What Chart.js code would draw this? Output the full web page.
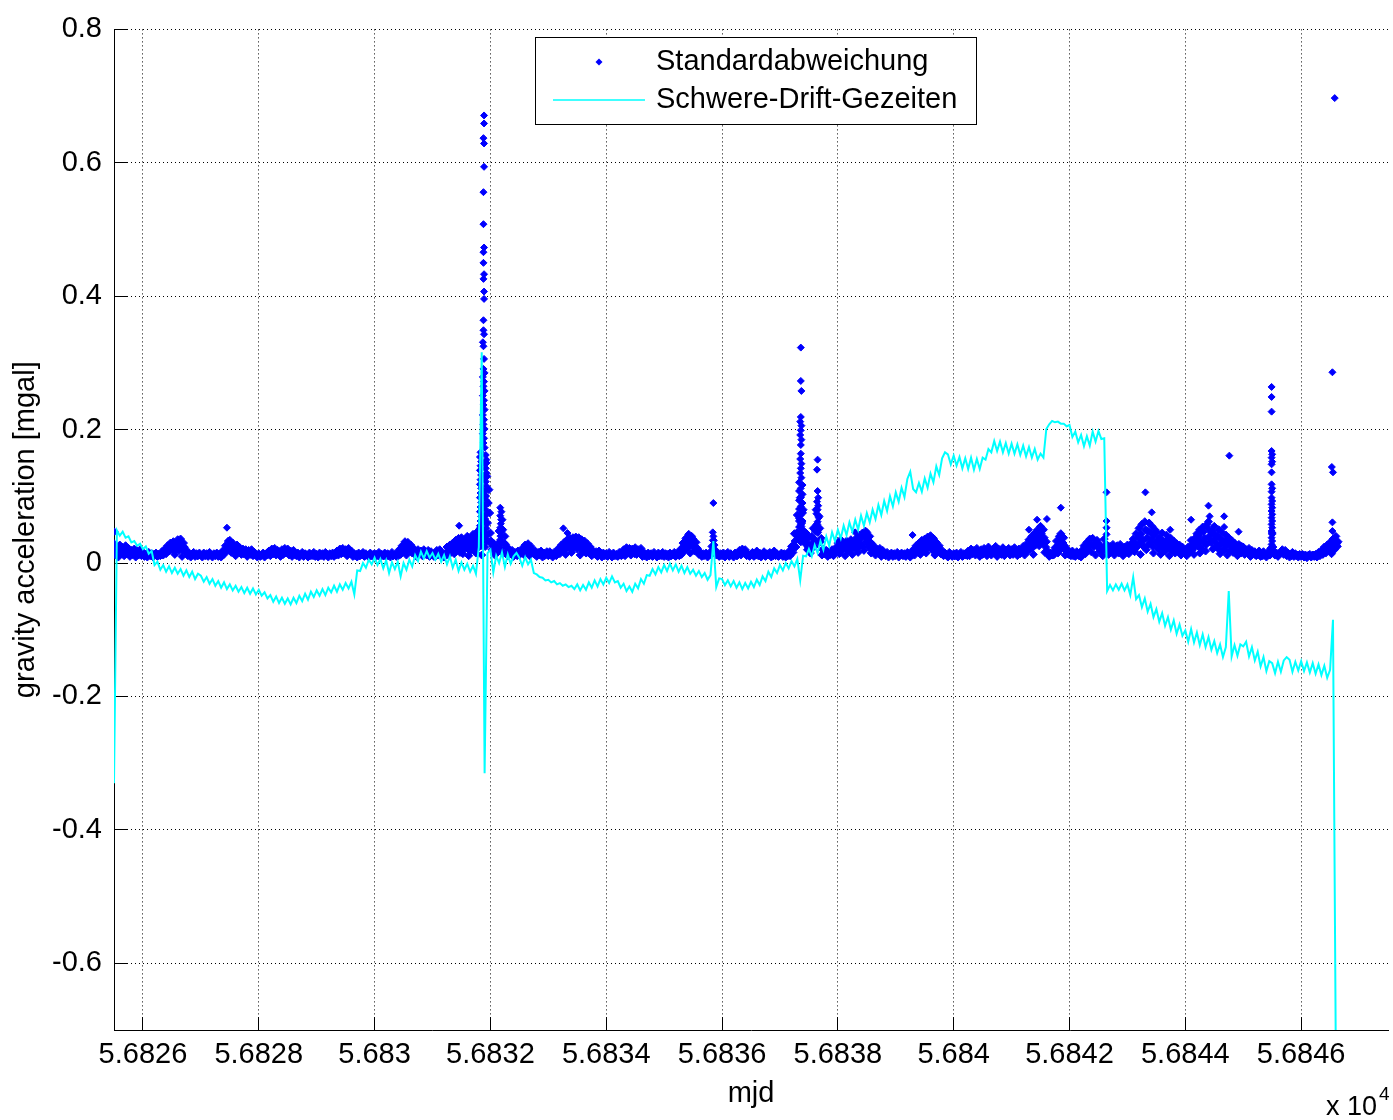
<!DOCTYPE html>
<html>
<head>
<meta charset="utf-8">
<title>Standardabweichung / Schwere-Drift-Gezeiten</title>
<script src="https://cdn.jsdelivr.net/npm/chart.js@4.4.1/dist/chart.umd.min.js"></script>
<style>
  html, body { margin: 0; padding: 0; background: #ffffff; }
  #wrap { width: 1393px; height: 1120px; position: relative; }
</style>
</head>
<body>
<div id="wrap"><canvas id="c" width="1393" height="1120"></canvas></div>
<script>
const FONT = "'Liberation Sans', Arial, Helvetica, sans-serif";

// axis ticks (mjd and mgal)
const xTickValues = [56826, 56828, 56830, 56832, 56834, 56836, 56838, 56840, 56842, 56844, 56846];
const xTickLabels = ['5.6826', '5.6828', '5.683', '5.6832', '5.6834', '5.6836', '5.6838', '5.684', '5.6842', '5.6844', '5.6846'];
const yTickValues = [-0.6, -0.4, -0.2, 0, 0.2, 0.4, 0.6, 0.8];
const yTickLabels = ['-0.6', '-0.4', '-0.2', '0', '0.2', '0.4', '0.6', '0.8'];

// standard deviation, one value every 0.025 d starting at stdStart (one row = half a day)
const stdStart = 56825.5;
const stdStep = 0.025;
const stdBand = [
  .029,.012,.024,.009,.027,.016,.021,.011,.026,.014,.022,.010,.019,.013,.021,.009,.017,.012,.020,.011, // 56825.5
  .015,.010,.013,.009,.016,.011,.014,.009,.012,.015,.010,.013,.011,.017,.012,.021,.014,.026,.018,.030, // 56826.0
  .022,.032,.013,.028,.035,.019,.036,.010,.030,.022,.018,.011,.015,.009,.013,.016,.010,.014,.011,.015, // 56826.5
  .012,.009,.015,.011,.014,.010,.016,.012,.009,.014,.011,.015,.010,.013,.009,.018,.013,.026,.019,.033, // 56827.0
  .034,.016,.030,.022,.011,.027,.019,.023,.013,.021,.017,.020,.010,.019,.014,.020,.011,.016,.013,.009, // 56827.5
  .014,.010,.012,.015,.009,.013,.016,.018,.011,.021,.014,.022,.012,.019,.016,.010,.020,.013,.022,.015, // 56828.0
  .021,.012,.018,.010,.019,.014,.011,.015,.009,.013,.016,.010,.014,.012,.009,.015,.011,.013,.016,.010, // 56828.5
  .013,.009,.015,.011,.014,.010,.016,.012,.009,.014,.011,.015,.010,.013,.018,.012,.021,.014,.022,.017, // 56829.0
  .020,.011,.022,.015,.018,.010,.014,.012,.009,.015,.011,.013,.016,.010,.014,.012,.009,.015,.011,.013, // 56829.5
  .014,.010,.012,.016,.009,.013,.011,.015,.010,.014,.012,.009,.016,.011,.013,.010,.015,.020,.013,.026, // 56830.0
  .018,.032,.012,.031,.022,.027,.015,.022,.019,.010,.020,.014,.018,.011,.020,.015,.012,.019,.010,.017, // 56830.5
  .013,.010,.015,.019,.012,.020,.011,.014,.009,.013,.024,.012,.027,.018,.030,.014,.034,.022,.037,.016, // 56831.0
  .038,.014,.033,.024,.040,.011,.036,.020,.043,.028,.015,.047,.030,.052,.012,.085,.040,.150,.060,.110, // 56831.5
  .045,.020,.030,.012,.026,.016,.048,.022,.065,.014,.040,.023,.011,.021,.015,.019,.010,.016,.013,.018, // 56832.0
  .012,.016,.022,.013,.027,.018,.029,.011,.025,.020,.014,.018,.010,.016,.012,.018,.009,.015,.013,.017, // 56832.5
  .011,.017,.013,.009,.016,.012,.018,.022,.014,.027,.019,.031,.013,.035,.024,.037,.016,.038,.029,.039, // 56833.0
  .021,.038,.012,.035,.027,.033,.015,.029,.022,.024,.011,.018,.015,.017,.010,.018,.013,.009,.015,.011, // 56833.5
  .014,.010,.016,.012,.009,.015,.011,.013,.010,.016,.012,.014,.020,.011,.023,.016,.022,.012,.021,.018, // 56834.0
  .023,.013,.020,.017,.022,.010,.016,.013,.009,.015,.011,.014,.010,.016,.012,.009,.015,.011,.013,.016, // 56834.5
  .010,.014,.012,.009,.015,.011,.013,.016,.010,.014,.012,.020,.013,.030,.019,.037,.024,.043,.015,.040, // 56835.0
  .036,.018,.031,.022,.013,.016,.010,.014,.012,.015,.009,.013,.016,.025,.034,.020,.012,.015,.010,.014, // 56835.5
  .011,.015,.009,.013,.016,.010,.014,.012,.009,.015,.011,.013,.019,.012,.021,.016,.020,.011,.014,.010, // 56836.0
  .013,.016,.010,.014,.018,.011,.015,.009,.013,.017,.010,.014,.012,.016,.009,.015,.018,.011,.014,.010, // 56836.5
  .012,.015,.010,.014,.009,.013,.017,.011,.025,.016,.044,.024,.072,.038,.098,.060,.080,.030,.045,.020, // 56837.0
  .038,.015,.040,.052,.025,.080,.046,.070,.032,.012,.021,.014,.019,.010,.017,.013,.020,.011,.016,.024, // 56837.5
  .030,.014,.035,.020,.028,.011,.033,.018,.025,.035,.013,.030,.022,.038,.016,.042,.027,.045,.019,.048, // 56838.0
  .046,.024,.040,.015,.028,.022,.012,.021,.017,.022,.010,.019,.014,.011,.016,.009,.013,.015,.010,.014, // 56838.5
  .012,.016,.009,.013,.015,.011,.014,.010,.016,.012,.009,.015,.020,.012,.026,.017,.030,.013,.034,.022, // 56839.0
  .036,.015,.039,.026,.041,.020,.037,.012,.031,.023,.026,.014,.019,.011,.015,.013,.009,.016,.012,.010, // 56839.5
  .014,.011,.015,.009,.013,.016,.010,.014,.012,.015,.018,.011,.021,.014,.019,.012,.022,.016,.010,.020, // 56840.0
  .013,.022,.016,.011,.024,.018,.012,.020,.015,.025,.010,.021,.017,.013,.023,.011,.019,.015,.022,.012, // 56840.5
  .020,.013,.023,.016,.011,.021,.014,.019,.025,.012,.028,.018,.035,.022,.040,.013,.045,.030,.050,.026, // 56841.0
  .055,.035,.050,.016,.032,.014,.010,.015,.012,.016,.023,.033,.015,.040,.044,.025,.038,.012,.022,.014, // 56841.5
  .016,.011,.018,.013,.010,.017,.012,.015,.009,.020,.026,.014,.031,.020,.036,.017,.037,.025,.012,.034, // 56842.0
  .030,.018,.024,.011,.036,.020,.027,.013,.025,.018,.028,.012,.022,.026,.015,.028,.019,.011,.024,.016, // 56842.5
  .027,.014,.021,.030,.036,.017,.044,.026,.052,.013,.058,.034,.062,.020,.048,.060,.030,.055,.015,.050, // 56843.0
  .047,.022,.038,.013,.045,.030,.018,.042,.026,.011,.037,.021,.033,.015,.029,.019,.027,.012,.024,.017, // 56843.5
  .018,.011,.024,.016,.034,.020,.013,.038,.044,.025,.015,.048,.054,.030,.018,.058,.062,.035,.046,.021, // 56844.0
  .055,.025,.040,.050,.014,.046,.031,.020,.042,.012,.038,.026,.034,.016,.030,.022,.011,.028,.019,.025, // 56844.5
  .024,.013,.020,.016,.022,.010,.019,.014,.017,.011,.015,.018,.010,.014,.017,.012,.009,.016,.013,.022, // 56845.0
  .045,.018,.012,.015,.010,.014,.017,.020,.013,.019,.011,.015,.009,.013,.016,.010,.014,.012,.009,.013, // 56845.5
  .010,.013,.009,.012,.008,.011,.013,.009,.012,.010,.013,.009,.016,.011,.019,.013,.024,.015,.027,.018, // 56846.0
  .031,.014,.036,.020,.040,.025                                                                         // 56846.5
];

// the interleaved samples, half a step later than stdBand
const stdFillStart = 56825.5125;
const stdFill = [
  .018,.022,.015,.020,.013,.024,.017,.019,.014,.021,.016,.018,.013,.017,.015,.019,.012,.016,.014,.017, // 56825.5
  .012,.013,.011,.012,.013,.012,.011,.013,.012,.011,.013,.012,.014,.013,.016,.018,.020,.019,.023,.024, // 56826.0
  .024,.018,.027,.021,.030,.023,.026,.019,.024,.017,.014,.013,.012,.011,.012,.013,.012,.011,.013,.012, // 56826.5
  .011,.012,.013,.012,.011,.012,.013,.011,.012,.013,.012,.011,.013,.012,.011,.014,.017,.020,.023,.026, // 56827.0
  .027,.024,.025,.018,.022,.017,.016,.015,.017,.014,.015,.016,.014,.015,.013,.016,.012,.013,.011,.012, // 56827.5
  .012,.011,.013,.012,.011,.012,.013,.015,.016,.014,.017,.016,.015,.014,.017,.016,.015,.017,.016,.018, // 56828.0
  .015,.016,.014,.015,.013,.012,.013,.011,.012,.013,.012,.011,.013,.012,.011,.013,.012,.011,.012,.013, // 56828.5
  .012,.011,.013,.012,.011,.013,.012,.011,.012,.013,.012,.011,.013,.012,.014,.016,.015,.017,.016,.015, // 56829.0
  .016,.017,.015,.014,.013,.012,.011,.013,.012,.011,.013,.012,.011,.013,.012,.011,.013,.012,.011,.012, // 56829.5
  .012,.013,.011,.012,.013,.012,.011,.013,.012,.011,.012,.013,.011,.012,.013,.012,.011,.014,.016,.019, // 56830.0
  .023,.018,.026,.021,.025,.017,.020,.016,.014,.016,.013,.015,.014,.016,.013,.015,.014,.016,.013,.014, // 56830.5
  .012,.013,.011,.014,.015,.013,.012,.011,.013,.012,.018,.022,.017,.024,.020,.027,.022,.029,.024,.031, // 56831.0
  .026,.020,.030,.023,.033,.019,.028,.035,.025,.038,.021,.032,.042,.026,.050,.070,.100,.130,.090,.075, // 56831.5
  .033,.026,.022,.019,.018,.021,.032,.040,.050,.030,.028,.017,.015,.016,.013,.014,.012,.013,.011,.014, // 56832.0
  .014,.019,.017,.021,.020,.023,.019,.022,.018,.015,.013,.014,.012,.013,.014,.012,.013,.011,.014,.012, // 56832.5
  .013,.012,.014,.012,.013,.011,.014,.017,.021,.024,.019,.027,.022,.029,.024,.031,.021,.027,.033,.024, // 56833.0
  .029,.023,.030,.020,.025,.019,.021,.016,.015,.017,.015,.014,.013,.014,.012,.013,.011,.012,.013,.012, // 56833.5
  .011,.012,.013,.011,.012,.013,.012,.011,.013,.012,.011,.013,.015,.017,.016,.018,.017,.015,.016,.014, // 56834.0
  .017,.016,.015,.014,.013,.012,.011,.013,.012,.011,.013,.012,.011,.013,.012,.011,.013,.012,.011,.012, // 56834.5
  .012,.011,.013,.012,.011,.013,.012,.011,.013,.012,.011,.017,.021,.025,.020,.030,.024,.034,.027,.032, // 56835.0
  .026,.021,.019,.016,.014,.012,.013,.011,.012,.013,.011,.012,.014,.020,.027,.016,.013,.012,.011,.013, // 56835.5
  .012,.011,.013,.012,.011,.013,.012,.011,.013,.012,.011,.014,.015,.016,.017,.014,.015,.013,.012,.011, // 56836.0
  .012,.013,.011,.012,.014,.013,.012,.011,.013,.012,.011,.013,.012,.014,.012,.011,.013,.012,.011,.012, // 56836.5
  .012,.013,.011,.012,.013,.011,.015,.018,.021,.027,.033,.045,.040,.063,.055,.075,.048,.036,.030,.024, // 56837.0
  .026,.022,.030,.036,.048,.058,.032,.052,.037,.020,.016,.015,.014,.016,.013,.015,.014,.016,.018,.019, // 56837.5
  .022,.027,.019,.025,.030,.021,.026,.028,.020,.030,.024,.033,.027,.022,.035,.029,.038,.025,.040,.032, // 56838.0
  .036,.028,.031,.022,.019,.017,.016,.017,.015,.016,.014,.013,.012,.013,.012,.011,.012,.013,.012,.011, // 56838.5
  .013,.012,.011,.012,.013,.012,.011,.013,.012,.011,.013,.012,.016,.019,.021,.018,.024,.020,.027,.023, // 56839.0
  .029,.022,.032,.025,.030,.020,.027,.022,.024,.018,.016,.014,.015,.013,.012,.011,.013,.012,.011,.012, // 56839.5
  .011,.013,.012,.011,.013,.012,.011,.013,.012,.011,.014,.016,.015,.017,.016,.015,.017,.014,.016,.015, // 56840.0
  .017,.015,.018,.016,.017,.014,.016,.018,.017,.015,.016,.017,.014,.018,.016,.017,.015,.016,.018,.017, // 56840.5
  .016,.017,.015,.018,.016,.015,.017,.018,.019,.022,.017,.025,.021,.029,.023,.033,.027,.038,.030,.042, // 56841.0
  .044,.030,.038,.024,.019,.013,.012,.014,.012,.013,.018,.024,.028,.033,.022,.030,.026,.018,.014,.013, // 56841.5
  .012,.013,.011,.012,.013,.012,.011,.013,.012,.015,.019,.022,.024,.026,.027,.028,.026,.029,.027,.025, // 56842.0
  .022,.024,.019,.021,.026,.028,.021,.019,.020,.022,.019,.021,.018,.020,.022,.019,.021,.018,.020,.019, // 56842.5
  .016,.022,.019,.025,.019,.030,.024,.038,.029,.044,.034,.024,.050,.038,.028,.046,.036,.025,.042,.032, // 56843.0
  .030,.021,.036,.026,.033,.020,.029,.035,.024,.031,.019,.027,.022,.028,.018,.024,.020,.015,.021,.016, // 56843.5
  .014,.019,.016,.024,.020,.030,.025,.036,.029,.041,.033,.022,.047,.037,.028,.052,.040,.031,.048,.035, // 56844.0
  .042,.030,.022,.038,.028,.035,.020,.032,.026,.034,.018,.029,.023,.030,.017,.025,.020,.026,.015,.022, // 56844.5
  .018,.016,.017,.015,.016,.014,.013,.015,.012,.014,.013,.012,.014,.011,.013,.012,.014,.013,.012,.014, // 56845.0
  .024,.013,.014,.012,.013,.015,.016,.017,.015,.016,.013,.012,.013,.011,.012,.013,.011,.012,.011,.012, // 56845.5
  .011,.012,.011,.010,.011,.012,.010,.011,.012,.011,.010,.012,.013,.014,.015,.017,.018,.020,.021,.023, // 56846.0
  .024,.026,.028,.030,.029,.032                                                                         // 56846.5
];

// isolated and clustered standard deviation values [mjd, mgal]
const stdExtra = [
  [56825.51,.047], [56827.45,.053], [56831.46,.056],
  // burst around 56831.9
  [56831.89,.671],[56831.89,.659],[56831.88,.637],[56831.89,.629],[56831.89,.594],[56831.88,.556],[56831.88,.508],
  [56831.89,.473],[56831.88,.466],[56831.88,.450],[56831.89,.433],[56831.88,.426],[56831.89,.407],[56831.89,.396],
  [56831.88,.364],[56831.88,.349],[56831.89,.343],[56831.87,.331],[56831.88,.325],[56831.89,.306],
  [56831.88,.291],[56831.90,.285],[56831.87,.279],[56831.89,.272],[56831.88,.265],[56831.90,.258],[56831.87,.251],
  [56831.89,.244],[56831.88,.237],[56831.90,.230],[56831.87,.222],[56831.89,.215],[56831.88,.208],[56831.90,.201],
  [56831.87,.194],[56831.89,.187],[56831.88,.180],[56831.90,.173],
  [56831.83,.166],[56831.92,.162],[56831.82,.159],[56831.93,.155],[56831.84,.152],[56831.91,.149],[56831.83,.146],
  [56831.92,.142],[56831.82,.139],[56831.93,.135],[56831.84,.132],[56831.91,.129],[56831.83,.125],[56831.92,.122],
  [56831.82,.118],[56831.93,.115],[56831.84,.112],[56831.91,.108],[56831.83,.105],[56831.92,.101],[56831.82,.098],
  [56831.93,.094],[56831.84,.091],[56831.91,.087],[56831.83,.084],[56831.92,.080],[56831.82,.077],[56831.93,.073],
  [56831.84,.070],[56831.91,.066],[56831.83,.063],[56831.92,.059],[56831.82,.056],[56831.93,.052],[56831.84,.049],
  [56831.91,.045],[56831.83,.042],[56831.92,.038],[56831.82,.035],[56831.93,.031],[56831.84,.028],[56831.91,.024],
  [56831.97,.044],[56831.98,.032],[56831.79,.040],[56831.79,.027],
  // second burst
  [56832.17,.083],[56832.19,.077],[56832.17,.071],[56832.19,.065],[56832.18,.059],[56832.17,.053],[56832.19,.047],
  [56832.18,.041],[56832.17,.035],[56832.19,.029],
  [56833.26,.052], [56833.33,.045],
  [56835.85,.090], [56835.84,.046], [56835.85,.040],
  // burst around 56837.36
  [56837.36,.323],[56837.36,.273],[56837.37,.258],[56837.36,.219],[56837.35,.212],[56837.37,.206],[56837.36,.199],
  [56837.35,.192],[56837.37,.185],[56837.36,.177],[56837.36,.164],[56837.35,.156],[56837.37,.149],[56837.36,.142],
  [56837.35,.135],[56837.37,.128],
  [56837.33,.121],[56837.39,.117],[56837.36,.112],[56837.33,.108],[56837.39,.103],[56837.36,.099],[56837.33,.094],
  [56837.39,.090],[56837.36,.085],[56837.33,.081],[56837.39,.076],[56837.36,.072],[56837.33,.067],[56837.39,.063],
  [56837.36,.058],[56837.33,.054],[56837.39,.049],[56837.36,.045],[56837.33,.040],[56837.39,.036],[56837.36,.031],
  [56837.42,.041],[56837.30,.046],
  [56837.65,.155],[56837.64,.140],[56837.65,.108],[56837.66,.098],[56837.64,.092],[56837.66,.086],[56837.65,.080],
  [56837.63,.074],[56837.67,.068],[56837.65,.062],[56837.64,.056],
  [56838.30,.046], [56839.29,.042],
  [56841.30,.050], [56841.44,.065], [56841.61,.066], [56841.85,.083],
  [56842.64,.106], [56842.64,.063], [56842.64,.053], [56842.64,.043],
  [56843.31,.106], [56843.42,.076], [56843.74,.050],
  [56844.10,.065], [56844.24,.050], [56844.40,.086], [56844.42,.070], [56844.67,.070], [56844.67,.054],
  [56844.76,.161], [56844.92,.047],
  // burst around 56845.49
  [56845.49,.264],[56845.49,.249],[56845.49,.227],[56845.49,.168],[56845.50,.163],[56845.49,.158],[56845.50,.152],
  [56845.49,.148],[56845.49,.136],[56845.49,.118],[56845.50,.112],[56845.49,.107],[56845.49,.098],[56845.50,.093],
  [56845.49,.088],[56845.50,.083],[56845.49,.078],[56845.50,.073],[56845.49,.068],[56845.50,.063],[56845.49,.058],
  [56845.50,.053],[56845.49,.048],[56845.50,.043],[56845.49,.038],[56845.50,.033],[56845.49,.028],
  [56846.54,.286], [56846.53,.144], [56846.55,.136], [56846.54,.061], [56846.54,.048],
  [56846.58,.697]
];

// gravity minus drift and tides, one value every 0.05 d starting at driftStart (one row = half a day)
const driftStart = 56825.5;
const driftStep = 0.05;
const drift = [
  -.330, .049, .041, .047, .038, .040, .031, .033, .026, .029,   // 56825.5
   .021, .025, .014, .018,-.003, .002,-.010,-.003,-.013,-.005,   // 56826.0
  -.015,-.007,-.016,-.009,-.019,-.011,-.021,-.013,-.024,-.016,   // 56826.5
  -.019,-.028,-.021,-.031,-.024,-.034,-.027,-.037,-.029,-.039,   // 56827.0
  -.032,-.041,-.034,-.043,-.036,-.045,-.037,-.046,-.038,-.047,   // 56827.5
  -.040,-.049,-.044,-.053,-.048,-.058,-.050,-.060,-.052,-.061,   // 56828.0
  -.053,-.062,-.052,-.060,-.049,-.057,-.046,-.055,-.043,-.051,   // 56828.5
  -.041,-.049,-.039,-.048,-.037,-.044,-.034,-.043,-.032,-.040,   // 56829.0
  -.030,-.038,-.028,-.047,-.011,-.012, .000,-.007, .005,-.002,   // 56829.5
   .008,-.003, .006,-.008, .004,-.015, .001,-.009, .002,-.020,   // 56830.0
   .000,-.010, .005,-.005, .012, .003, .017, .007, .018, .008,   // 56830.5
   .015, .005, .014, .002, .012,-.002, .010,-.007, .005,-.012,   // 56831.0
   .001,-.010,-.001,-.013,-.004,-.016, .024, .316,-.315, .015,   // 56831.5
   .020,-.014, .011, .000, .016,-.006, .013,-.001, .010, .015,   // 56832.0
   .008,-.004, .009,-.002, .005,-.015,-.017,-.021,-.022,-.026,   // 56832.5
  -.025,-.029,-.027,-.032,-.030,-.034,-.032,-.036,-.034,-.039,   // 56833.0
  -.032,-.041,-.033,-.040,-.029,-.037,-.026,-.035,-.024,-.032,   // 56833.5
  -.022,-.030,-.020,-.029,-.027,-.037,-.031,-.042,-.035,-.043,   // 56834.0
  -.031,-.038,-.024,-.031,-.018,-.019,-.009,-.017,-.006,-.014,   // 56834.5
  -.003,-.012,-.001,-.011,-.002,-.013,-.004,-.015,-.006,-.016,   // 56835.0
  -.010,-.019,-.012,-.021,-.015,-.025,-.018, .033,-.036,-.023,   // 56835.5
  -.024,-.033,-.026,-.035,-.027,-.037,-.029,-.039,-.030,-.038,   // 56836.0
  -.028,-.036,-.025,-.033,-.020,-.027,-.013,-.021,-.008,-.015,   // 56836.5
  -.003,-.011, .000,-.008, .003,-.005, .006,-.026, .011, .010,   // 56837.0
   .021, .010, .027, .015, .033, .020, .040, .026, .046, .033,   // 56837.5
   .050, .037, .056, .042, .061, .047, .065, .050, .071, .056,   // 56838.0
   .075, .061, .080, .066, .087, .072, .093, .078, .100, .085,   // 56838.5
   .106, .092, .113, .099, .126, .137, .111, .106, .120, .107,   // 56839.0
   .127, .113, .134, .121, .145, .132, .157, .166, .163, .148,   // 56839.5
   .161, .146, .159, .142, .157, .141, .158, .140, .156, .141,   // 56840.0
   .158, .155, .171, .166, .183, .168, .182, .166, .180, .164,   // 56840.5
   .179, .164, .178, .162, .176, .160, .174, .158, .171, .155,   // 56841.0
   .164, .158, .201, .208, .213, .211, .212, .209, .209, .205,   // 56841.5
   .207, .189, .197, .181, .192, .175, .190, .176, .197, .182,   // 56842.0
   .198, .186, .187,-.042,-.033,-.041,-.032,-.040,-.031,-.041,   // 56842.5
  -.032,-.048,-.021,-.054,-.048,-.066,-.053,-.073,-.061,-.081,   // 56843.0
  -.069,-.088,-.075,-.094,-.081,-.100,-.086,-.106,-.092,-.109,   // 56843.5
  -.101,-.118,-.099,-.119,-.104,-.123,-.107,-.126,-.111,-.130,   // 56844.0
  -.117,-.135,-.122,-.141,-.126,-.042,-.140,-.123,-.139,-.122,   // 56844.5
  -.125,-.118,-.140,-.126,-.146,-.133,-.155,-.141,-.162,-.147,   // 56845.0
  -.150,-.165,-.148,-.163,-.146,-.141,-.145,-.163,-.148,-.161,   // 56845.5
  -.147,-.162,-.149,-.164,-.150,-.166,-.152,-.168,-.154,-.172,   // 56846.0
  -.160,-.085,-.750                                              // 56846.5
];

const bandCount = stdBand.length + stdFill.length;
const stdPoints = stdBand.map((v, i) => ({ x: stdStart + i * stdStep, y: v }))
  .concat(stdFill.map((v, i) => ({ x: stdFillStart + i * stdStep, y: v })))
  .concat(stdExtra.map(([x, y]) => ({ x, y })));
const driftPoints = drift.map((v, i) => ({ x: driftStart + i * driftStep, y: v }));

const BLUE = '#0000ff';
const CYAN = '#00ffff';
const TICK_LEN = 13;

function align(px) { return Math.round(px - 0.5) + 0.5; }

// tick marks pointing into the plot area
const inwardTicks = {
  id: 'inwardTicks',
  beforeDatasetsDraw(chart) {
    const { ctx, chartArea: a, scales: { x, y } } = chart;
    ctx.save();
    ctx.strokeStyle = '#000';
    ctx.lineWidth = 1;
    ctx.beginPath();
    xTickValues.forEach(v => {
      const px = align(x.getPixelForValue(v));
      ctx.moveTo(px, a.bottom);
      ctx.lineTo(px, a.bottom - TICK_LEN);
    });
    yTickValues.forEach(v => {
      const py = align(y.getPixelForValue(v));
      ctx.moveTo(a.left, py);
      ctx.lineTo(a.left + TICK_LEN, py);
    });
    ctx.stroke();
    ctx.restore();
  }
};

// boxed legend inside the plot and the x 10^4 multiplier
const boxedLegend = {
  id: 'boxedLegend',
  afterDraw(chart) {
    const { ctx } = chart;
    const ds = chart.data.datasets;
    ctx.save();
    ctx.fillStyle = '#fff';
    ctx.fillRect(536, 38, 440, 86);
    ctx.strokeStyle = '#000';
    ctx.lineWidth = 1;
    ctx.strokeRect(535.5, 37.5, 441, 87);

    // marker sample
    ctx.fillStyle = BLUE;
    ctx.beginPath();
    ctx.moveTo(599 - 3.5, 62);
    ctx.lineTo(599, 62 - 3.5);
    ctx.lineTo(599 + 3.5, 62);
    ctx.lineTo(599, 62 + 3.5);
    ctx.closePath();
    ctx.fill();

    // line sample
    ctx.strokeStyle = CYAN;
    ctx.lineWidth = 1.6;
    ctx.beginPath();
    ctx.moveTo(553, 100);
    ctx.lineTo(645, 100);
    ctx.stroke();

    ctx.fillStyle = '#000';
    ctx.font = '29px ' + FONT;
    ctx.textAlign = 'left';
    ctx.textBaseline = 'middle';
    ctx.fillText(ds[0].label, 656, 62);
    ctx.fillText(ds[1].label, 656, 100);

    // axis multiplier
    ctx.textBaseline = 'alphabetic';
    ctx.font = '27px ' + FONT;
    const base = 'x 10';
    ctx.fillText(base, 1326, 1115);
    const w = ctx.measureText(base).width;
    ctx.font = '19px ' + FONT;
    ctx.fillText('4', 1326 + w + 2, 1100);
    ctx.restore();
  }
};

new Chart(document.getElementById('c').getContext('2d'), {
  type: 'scatter',
  data: {
    datasets: [
      {
        label: 'Standardabweichung',
        data: stdPoints,
        showLine: false,
        pointStyle: 'rectRot',
        // the dense cloud uses slightly larger markers than the isolated values
        pointRadius: c => (c.dataIndex < bandCount ? 4 : 3.5),
        pointBackgroundColor: BLUE,
        pointBorderColor: BLUE,
        pointBorderWidth: 1,
        order: 1
      },
      {
        label: 'Schwere-Drift-Gezeiten',
        data: driftPoints,
        showLine: true,
        borderColor: CYAN,
        backgroundColor: CYAN,
        borderWidth: 2,
        pointRadius: 0,
        fill: false,
        tension: 0,
        order: 0
      }
    ]
  },
  options: {
    responsive: false,
    animation: false,
    devicePixelRatio: 1,
    events: [],
    layout: { padding: { top: 22, right: 1, bottom: 0, left: 0 } },
    plugins: {
      legend: { display: false },
      tooltip: { enabled: false }
    },
    scales: {
      x: {
        type: 'linear',
        position: 'bottom',
        min: 56825.5,
        max: 56847.5,
        afterBuildTicks: s => { s.ticks = xTickValues.map(v => ({ value: v })); },
        afterFit: s => { s.height = 90; },
        ticks: {
          callback: (v, i) => xTickLabels[i],
          autoSkip: false,
          maxRotation: 0,
          minRotation: 0,
          padding: 8,
          color: '#000',
          font: { family: FONT, size: 29, lineHeight: 1.2 }
        },
        grid: { color: '#000', lineWidth: 1, drawTicks: false },
        border: { display: true, color: '#000', width: 1, dash: [1, 3] },
        title: {
          display: true,
          text: 'mjd',
          color: '#000',
          font: { family: FONT, size: 29, lineHeight: 1.2 },
          padding: { top: 0, bottom: 9 }
        }
      },
      y: {
        type: 'linear',
        position: 'left',
        min: -0.7,
        max: 0.8,
        afterBuildTicks: s => { s.ticks = yTickValues.map(v => ({ value: v })); },
        afterFit: s => { s.width = 114; },
        ticks: {
          callback: (v, i) => yTickLabels[i],
          autoSkip: false,
          padding: 12,
          color: '#000',
          font: { family: FONT, size: 29, lineHeight: 1.2 }
        },
        grid: { color: '#000', lineWidth: 1, drawTicks: false },
        border: { display: true, color: '#000', width: 1, dash: [1, 3] },
        title: {
          display: true,
          text: 'gravity acceleration [mgal]',
          color: '#000',
          font: { family: FONT, size: 29, lineHeight: 1.2 },
          padding: { top: 9, bottom: 0 }
        }
      }
    }
  },
  plugins: [inwardTicks, boxedLegend]
});
</script>
</body>
</html>
